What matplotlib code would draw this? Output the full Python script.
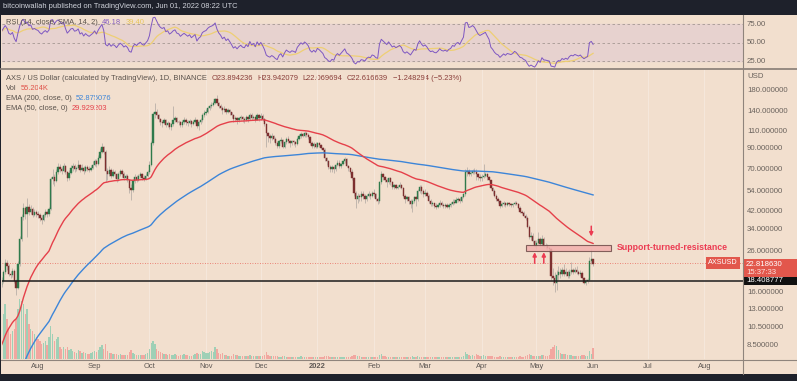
import numpy as np
import pandas as pd
import matplotlib
matplotlib.use("Agg")
import matplotlib.pyplot as plt
import matplotlib.dates as mdates
import matplotlib.transforms as mtransforms
from matplotlib.lines import Line2D
from matplotlib.patches import Rectangle
from matplotlib.ticker import NullLocator

plt.rcParams["font.family"] = ["Liberation Sans", "DejaVu Sans"]

# ---- data (AXS/USD daily) ----
start_date = "2021-07-12"
first_open = 17.5

close = [
    18.3, 20.4, 22.8, 21.9, 20.0, 19.6, 20.8, 18.4, 16.9, 22.6, 30.5, 39.5, 43.8, 41.2, 44.5, 42.0, 43.5, 40.5, 41.8, 41.0,  # Jul
    40.5, 39.0, 38.2, 40.5, 42.0, 41.0, 43.5, 62.5, 64.0, 61.0, 68.0, 72.0, 70.5, 69.0, 73.0, 68.0, 63.5, 67.0, 71.5, 72.5,
    70.0, 71.0, 74.0, 69.5, 71.5, 68.5, 72.0, 70.5, 69.5, 71.5, 73.5,  # Aug
    77.0, 74.5, 80.5, 86.0, 92.0, 86.5, 68.5, 66.0, 69.5, 65.0, 67.5, 66.0, 62.5, 66.0, 68.5, 66.5, 63.0, 64.5, 62.0, 56.0,
    54.5, 61.0, 64.0, 62.0, 64.5, 66.0, 63.5, 62.5, 65.0, 67.5,  # Sep
    74, 96, 136, 140, 134, 128, 124, 122, 126, 119, 122, 116.5, 120, 126, 129, 124, 123, 119, 123, 126,
    124, 122, 125, 121, 124, 127, 118, 123, 126, 135, 138,  # Oct
    140, 146, 150, 152, 155, 162, 155, 150, 147, 142, 145, 140, 143, 139, 134, 128, 130, 126, 129, 131,
    128, 127, 131, 128, 135, 130, 132, 127, 134, 129,  # Nov
    133, 128, 121, 108, 104, 102, 104, 101, 96, 93, 98, 100, 92, 97, 101, 98, 96, 98, 97, 95,
    101, 104, 107, 105, 108, 106, 103, 96, 93, 95, 92,  # Dec
    96, 94, 91, 88, 80, 77, 72, 70, 72, 70, 74, 76, 73, 75, 77, 79, 73, 71, 68, 63,
    53, 49, 51, 50, 52, 51, 49, 51, 52, 51, 53,  # Jan
    52, 49, 48, 60, 66, 64, 62, 60, 63, 60, 57, 58, 56, 57, 58, 56, 51, 49, 50, 48,
    46, 48, 50, 49, 54, 57, 54, 52,  # Feb
    53, 51, 48, 46, 46.5, 45, 44.5, 45.5, 47, 45.5, 45, 45.5, 44.5, 45.5, 46, 47.5, 47, 48.5, 49, 48,
    50, 52, 68, 69, 66, 67, 69, 68, 66, 64, 63,  # Mar
    64, 65, 66, 64, 62, 56, 54, 51, 49, 48, 45, 46, 47, 45.5, 46.5, 46, 45.5, 46, 47, 46,
    44, 42, 41.5, 40, 39, 35, 31, 31.5, 29.5, 28,  # Apr
    29.0, 30.5, 28.5, 30.5, 28.0, 27.8, 27.2, 26.8, 19.5, 19.0, 17.8, 19.8, 20.5, 20.0, 21.0, 20.0, 20.5, 19.5, 20.5, 21.0,
    20.5, 21.0, 20.5, 20.0, 20.3, 19.0, 18.0, 18.3, 18.6, 23.3, 23.894,  # May
    22.617,  # Jun 1
]

high = [
    19.2, 21.0, 24.0, 23.6, 22.5, 20.8, 21.4, 21.2, 18.8, 23.4, 31.5, 41.0, 47.0, 45.0, 49.5, 46.0, 45.5, 44.5, 43.5, 43.0,
    42.5, 41.5, 40.5, 41.5, 43.5, 43.0, 44.5, 64.0, 70.0, 66.0, 70.0, 76.0, 75.0, 72.0, 76.0, 74.0, 69.0, 69.5, 74.0, 76.0,
    74.5, 73.0, 78.0, 75.0, 74.5, 73.0, 74.0, 73.5, 72.5, 74.0, 77.0,
    79.5, 79.0, 83.0, 90.0, 96.0, 93.0, 88.0, 71.0, 72.5, 71.0, 70.0, 69.5, 67.0, 68.0, 70.5, 70.0, 67.5, 66.5, 66.0, 62.5,
    58.5, 62.5, 66.5, 65.5, 66.0, 68.0, 67.0, 65.5, 67.0, 69.5,
    77, 99, 140, 156, 145, 136, 130, 127, 129, 128, 125, 123, 122, 150, 133, 132, 127, 125, 126, 131,
    129, 127, 128, 126, 127, 131, 128, 125, 129, 138, 142,
    145, 150, 154, 157, 160, 165, 171, 158, 153, 150, 149, 147, 146, 144, 140, 136, 133, 132, 132, 134,
    133, 131, 134, 133, 138, 137, 135, 133, 137, 136,
    138, 136, 130, 122, 110, 107, 108, 106, 103, 99, 100, 103, 101, 99, 103, 104, 100, 100, 100, 98,
    103, 107, 110, 109, 111, 110, 108, 104, 98, 97, 97,
    97, 97, 95, 92, 90, 81, 78, 74, 74, 73, 75, 78, 78, 76, 78, 81, 80, 74, 72, 70,
    64, 54, 53, 52, 54, 54, 52, 52, 54, 53, 54,
    55, 53, 50, 61, 69, 67, 65, 63, 64, 64, 61, 59, 59, 58, 60, 59, 57, 52, 51, 51,
    49, 49, 51, 51, 55, 58, 58, 55,
    55, 54, 52, 49, 48, 47, 46.5, 47, 48.5, 48, 47, 47, 46.5, 46.5, 47.5, 49, 49, 50, 50.5, 50,
    51, 53, 70, 72, 70, 68.5, 70.5, 71, 70, 67, 66,
    66, 75, 68, 67, 65, 62, 57, 55, 52, 50, 48.5, 47.5, 48, 47.5, 47.5, 47.5, 47, 47, 48, 48,
    47, 45, 43, 42.5, 41, 40, 36, 33, 32.5, 30,
    30.0, 33.0, 31.0, 32.0, 31.0, 28.8, 28.5, 28.0, 27.2, 21.5, 20.5, 21.0, 22.0, 21.5, 21.8, 22.5, 21.5, 21.0, 21.2, 23.0,
    21.5, 21.8, 22.0, 21.0, 21.0, 20.8, 19.2, 18.8, 19.0, 24.5, 27.0,
    23.942,
]

low = [
    17.0, 17.9, 20.0, 21.0, 19.4, 19.0, 19.3, 18.0, 15.5, 16.6, 22.0, 29.5, 38.0, 38.5, 31.0, 40.5, 41.0, 39.5, 39.8, 39.5,
    39.0, 37.5, 36.5, 37.5, 39.5, 39.5, 40.0, 43.0, 59.0, 57.5, 60.0, 66.5, 68.0, 66.0, 68.0, 66.0, 61.0, 62.0, 66.0, 69.0,
    68.0, 68.5, 70.0, 68.0, 68.5, 66.5, 67.5, 68.5, 67.5, 68.5, 70.5,
    72.5, 72.0, 74.0, 79.5, 85.0, 84.0, 60.0, 62.0, 64.5, 63.5, 64.0, 63.5, 60.0, 61.0, 65.0, 64.0, 61.5, 61.5, 60.5, 53.0,
    48.5, 53.5, 59.5, 60.0, 61.0, 63.0, 62.0, 61.0, 61.5, 64.0,
    66.5, 73, 94, 130, 130, 124, 119, 117, 120, 117, 116, 114, 113, 118, 124, 122, 119, 116, 117, 121,
    119, 118, 120, 117, 119, 122, 115, 112, 120, 124, 131,
    134, 138, 143, 147, 150, 153, 151, 146, 143, 136, 139, 136, 138, 134, 130, 124, 125, 121, 124, 127,
    124, 122, 125, 124, 127, 126, 128, 123, 126, 125,
    127, 125, 118, 92, 97, 96, 100, 97, 94, 90, 91, 96, 90, 90, 95, 96, 92, 94, 94, 92,
    94, 100, 102, 103, 103, 103, 101, 94, 90, 91, 90,
    91, 92, 89, 86, 77, 74, 70, 68, 68, 67, 69, 73, 71, 71, 74, 76, 72, 69, 66, 62,
    51, 44, 47, 48, 48, 49, 47, 48, 50, 49, 50,
    50, 48, 46, 47, 59, 62, 60, 57, 59, 58, 55, 55, 55, 55, 56, 55, 50, 47, 48, 46,
    44, 42, 47, 45, 48, 53, 52, 50,
    51, 50, 47, 45, 45, 44, 43.5, 44, 44.5, 45, 44, 44, 44, 43.5, 44.5, 45.5, 46, 46.5, 47.5, 47,
    47.5, 49.5, 51, 65, 65, 65, 66, 66, 62, 62, 61,
    61, 63, 64, 62, 61, 55, 52, 50, 48, 46.5, 44, 44.5, 45, 44.5, 45, 45, 44.5, 44.5, 45.5, 45.5,
    43.5, 41.5, 41, 39.5, 38, 34.5, 30.5, 30, 29, 27.5,
    27.0, 28.5, 28.0, 28.0, 27.5, 26.8, 26.5, 26.0, 18.5, 17.5, 16.0, 16.5, 18.5, 19.0, 19.5, 19.5, 19.5, 19.0, 19.0, 20.0,
    20.0, 20.2, 20.0, 19.6, 19.5, 18.7, 17.6, 17.5, 17.8, 18.4, 22.5,
    22.07,
]

volume = [  # thousands
    175, 225, 275, 200, 150, 125, 140, 150, 200, 250, 300, 290, 275, 225, 250, 175, 150, 140, 125, 110,
    100, 90, 75, 80, 90, 70, 110, 165, 125, 90, 100, 110, 60, 50, 60, 50, 60, 45, 50, 40,
    35, 30, 45, 40, 30, 35, 30, 25, 25, 30, 35,
    40, 35, 45, 60, 70, 50, 75, 40, 30, 30, 25, 25, 25, 20, 25, 20, 20, 20, 20, 35,
    45, 30, 25, 20, 20, 20, 20, 20, 25, 30,
    50, 80, 90, 75, 50, 40, 35, 30, 25, 25, 20, 25, 20, 20, 25, 20, 15, 20, 20, 25,
    20, 20, 15, 15, 20, 25, 30, 25, 25, 40, 35,
    30, 30, 35, 40, 35, 60, 50, 30, 25, 30, 20, 20, 15, 15, 15, 25, 20, 20, 15, 15,
    15, 15, 15, 15, 20, 15, 15, 15, 15, 15,
    15, 15, 20, 35, 20, 15, 15, 15, 15, 15, 10, 10, 15, 15, 10, 10, 10, 10, 10, 10,
    10, 10, 15, 10, 10, 10, 10, 10, 10, 10, 10,
    10, 10, 10, 10, 15, 15, 15, 10, 10, 10, 10, 10, 10, 10, 10, 10, 10, 10, 10, 15,
    20, 20, 15, 15, 10, 10, 10, 10, 10, 10, 10,
    10, 10, 10, 20, 25, 15, 15, 10, 10, 10, 10, 10, 10, 10, 10, 10, 10, 10, 10, 10,
    10, 15, 10, 10, 15, 10, 10, 10,
    10, 10, 10, 10, 10, 10, 10, 10, 10, 10, 10, 10, 10, 10, 10, 10, 10, 10, 10, 10,
    10, 15, 35, 25, 20, 15, 20, 15, 25, 20, 15,
    15, 20, 15, 15, 15, 15, 15, 10, 10, 10, 15, 10, 10, 10, 10, 10, 10, 10, 10, 10,
    10, 15, 10, 10, 15, 20, 25, 20, 15, 15,
    15, 15, 15, 20, 20, 15, 15, 20, 50, 60, 70, 65, 45, 30, 25, 25, 25, 20, 20, 20,
    15, 15, 15, 15, 15, 20, 20, 15, 15, 40, 25,
    55.2,
]

# indicator state on the day before the first visible candle (from earlier history)
ema200_seed = 4.3
ema50_seed = 8.1
rsi_seed_gain, rsi_seed_loss = 0.8, 0.45

current_price = 22.818630
support_level = 18.408777
zone_low, zone_high = 26.3, 28.3
zone_start, zone_end = "2022-04-25", "2022-06-11"
up_arrow_dates = ["2022-04-30", "2022-05-05"]
down_arrow_date = "2022-05-31"
note_date = "2022-06-14"

price_ticks = [180, 140, 110, 90, 70, 54, 42, 34, 26, 16, 13, 10.5, 8.5]
rsi_levels = [75, 50, 25]
month_ticks = pd.date_range("2021-08-01", "2022-08-01", freq="MS")

# ---- colours ----
BG = "#f2dfce"
DARK = "#1e212b"
SEP = "#8f847c"
TXT = "#5a524c"
GREEN = "#2f7a4b"
RED = "#7d2f2f"
WICK = "#b9b0a8"
VGREEN = "#9fd0b6"
VRED = "#f2a7a0"
BLUE = "#3d85d8"
EMARED = "#e5404a"
NOTE = "#ec3b52"
AXTXT = "#6b635d"
FS = 5.4

W, H = 797, 381
fig = plt.figure(figsize=(W / 100, H / 100), dpi=100)
fig.patch.set_facecolor(DARK)


def box(x0, y0, x1, y1):
    return [x0 / W, 1 - y1 / H, (x1 - x0) / W, (y1 - y0) / H]


bg = fig.add_axes(box(1, 15, 797, 374))
bg.set_facecolor(BG)
bg.set_xticks([])
bg.set_yticks([])
bg.set_xlim(0, 1)
bg.set_ylim(0, 1)
for s in bg.spines.values():
    s.set_visible(False)

ax_rsi = fig.add_axes(box(2, 15, 743, 68))
ax_vol = fig.add_axes(box(2, 69, 743, 359), sharex=ax_rsi)
ax = fig.add_axes(box(2, 69, 743, 359), sharex=ax_rsi)
for a in (ax_rsi, ax_vol, ax):
    a.patch.set_alpha(0)
    for s in a.spines.values():
        s.set_visible(False)
    a.yaxis.set_major_locator(NullLocator())
    a.yaxis.set_minor_locator(NullLocator())

# ---- prices ----
dates = pd.date_range(start_date, periods=len(close), freq="D")
d = mdates.date2num(dates)
c = np.array(close, dtype=float)
o = np.r_[first_open, c[:-1]]
h = np.maximum(np.array(high, dtype=float), np.maximum(o, c))
l = np.minimum(np.array(low, dtype=float), np.minimum(o, c))
up = c >= o

d0 = d[0]
ax_rsi.set_xlim(d0 + 0.27, d0 + 406.1)

ax.set_yscale("log")
ax.yaxis.set_major_locator(NullLocator())
ax.yaxis.set_minor_locator(NullLocator())
ax.set_ylim(7.19, 233.6)

ax_vol.bar(d, volume, width=0.75, color=np.where(up, VGREEN, VRED), zorder=2)
ax_vol.set_ylim(0, max(volume) * 4.8)
ax_vol.set_axisbelow(True)
ax_vol.grid(axis="x", color="#f6e8dc", lw=0.7)

ax.vlines(d, l, h, color=WICK, lw=0.6, zorder=2)
body_col = np.where(up, GREEN, RED)
ax.bar(d, np.abs(c - o), bottom=np.minimum(o, c), width=0.72, color=body_col,
       edgecolor=body_col, linewidth=0.3, zorder=3)

ema200 = pd.Series(np.r_[ema200_seed, c]).ewm(span=200, adjust=False).mean().values[1:]
ema50 = pd.Series(np.r_[ema50_seed, c]).ewm(span=50, adjust=False).mean().values[1:]
ax.plot(d, ema200, color=BLUE, lw=1.0, zorder=4)
ax.plot(d, ema50, color=EMARED, lw=1.0, zorder=4)

ax.axhline(current_price, color="#e8665a", lw=0.6, ls=(0, (1, 2)), zorder=1)
ax.axhline(support_level, color="#1c1c1c", lw=1.1, zorder=5)

zs = mdates.date2num(pd.Timestamp(zone_start))
ze = mdates.date2num(pd.Timestamp(zone_end))
ax.add_patch(Rectangle((zs, zone_low), ze - zs, zone_high - zone_low, facecolor="#f2b0ae",
                       edgecolor="#6e4b48", lw=0.8, alpha=0.85, zorder=3.5))
arrow = dict(arrowstyle="-|>", color=NOTE, lw=1.1, mutation_scale=5.5, shrinkA=0, shrinkB=0)
for ad in up_arrow_dates:
    x = mdates.date2num(pd.Timestamp(ad))
    ax.annotate("", xy=(x, 25.9), xytext=(x, 22.7), arrowprops=arrow, zorder=6)
x = mdates.date2num(pd.Timestamp(down_arrow_date))
ax.annotate("", xy=(x, 31.3), xytext=(x, 35.4), arrowprops=arrow, zorder=6)
ax.text(mdates.date2num(pd.Timestamp(note_date)), 27.3, "Support-turned-resistance", color=NOTE,
        fontsize=6.3, fontweight="bold", va="center", ha="left", zorder=6)

trans = mtransforms.blended_transform_factory(ax.transAxes, ax.transData)
ax.text(0.993, current_price, "AXSUSD", transform=trans, ha="right", va="center", fontsize=5.2,
        color="white", bbox=dict(boxstyle="square,pad=0.35", fc="#e2574c", ec="none"), zorder=7)

# ---- x axis ----
ax.set_xticks(mdates.date2num(month_ticks))
ax.set_xticklabels(["2022" if t.month == 1 else t.strftime("%b") for t in month_ticks])
ax.tick_params(axis="x", length=0, pad=3.0, labelsize=5.4, colors="#5d5753")
for lbl in ax.get_xticklabels():
    if lbl.get_text() == "2022":
        lbl.set_fontweight("bold")
ax_vol.tick_params(axis="x", length=0, labelbottom=False)
ax_rsi.tick_params(axis="x", length=0, labelbottom=False)

# ---- RSI ----
rsi = []
ag, al = rsi_seed_gain, rsi_seed_loss
prev = first_open
for px in c:
    dlt = px - prev
    ag = (ag * 13 + max(dlt, 0)) / 14
    al = (al * 13 + max(-dlt, 0)) / 14
    rsi.append(100 - 100 / (1 + ag / al))
    prev = px
rsi = pd.Series(rsi)
rsi_ma = rsi.rolling(14, min_periods=1).mean()

ax_rsi.set_ylim(16.2, 87.8)
ax_rsi.axhspan(25, 75, color="#e7d2cf", zorder=0)
for lv in rsi_levels:
    ax_rsi.axhline(lv, color="#a59893", lw=0.6, ls=(0, (3, 3)), zorder=1)
ax_rsi.plot(d, rsi_ma, color="#efcf6a", lw=0.9, alpha=0.9, zorder=2)
ax_rsi.plot(d, rsi, color="#7e57c2", lw=0.7, zorder=3)

# ---- separators ----
for xs, ys, lw in [([743, 743], [15, 374], 0.8), ([1, 797], [68.5, 68.5], 1.3), ([1, 797], [359.5, 359.5], 0.8)]:
    fig.add_artist(Line2D([x / W for x in xs], [1 - y / H for y in ys], transform=fig.transFigure,
                          color=SEP, lw=lw))


def ypix(a, v):
    return H - a.transData.transform((d0, v))[1]


# ---- price scale labels ----
for p in price_ticks:
    fig.text(747 / W, 1 - ypix(ax, p) / H, f"{p:.6f}", fontsize=5.6, color=AXTXT, va="center", ha="left")
fig.text(747 / W, 1 - 76 / H, "USD", fontsize=5.6, color=AXTXT, va="center", ha="left")
for lv in rsi_levels:
    fig.text(747 / W, 1 - ypix(ax_rsi, lv) / H, f"{lv:.2f}", fontsize=5.6, color=AXTXT, va="center")

pc = ypix(ax, current_price)
fig.add_artist(Rectangle((743 / W, 1 - (pc + 14) / H), 54 / W, 18 / H, transform=fig.transFigure,
                         fc="#e2574c", ec="none"))
fig.text(746 / W, 1 - (pc + 1.5) / H, f"{current_price:.6f}", fontsize=5.6, color="white", va="center")
fig.text(746 / W, 1 - (pc + 9.5) / H, "15:37:33", fontsize=5.6, color="#fbe3df", va="center")
ps = ypix(ax, support_level)
fig.add_artist(Rectangle((743 / W, 1 - (ps + 4) / H), 54 / W, 8 / H, transform=fig.transFigure,
                         fc="#111111", ec="none"))
fig.text(746 / W, 1 - ps / H, f"{support_level:.6f}", fontsize=5.6, color="white", va="center")


# ---- legends ----
def text_row(x, y, parts, gap=3.2):
    t = fig.text(x / W, 1 - y / H, parts[0][0], color=parts[0][1], fontsize=FS, va="center", ha="left")
    for s, col in parts[1:]:
        t = bg.annotate(s, xy=(1, 0.5), xycoords=t, xytext=(gap, 0), textcoords="offset points",
                        va="center", ha="left", color=col, fontsize=FS)
    return t


fig.text(3 / W, 1 - 7 / H, "bitcoinwallah published on TradingView.com, Jun 01, 2022 08:22 UTC",
         color="#d1d4dc", fontsize=FS, va="center")
text_row(6, 22, [("RSI (14, close, SMA, 14, 2)", TXT), ("46.18", "#7e57c2"), ("39.40", "#e8c65a")])
OHLC = "#8a3e3a"
text_row(6, 78, [("AXS / US Dollar (calculated by TradingView), 1D, BINANCE", TXT), ("O23.894236", OHLC),
                 ("H23.942079", OHLC), ("L22.069694", OHLC), ("C22.616639", OHLC),
                 ("\u22121.248294 (\u22125.23%)", OHLC)])
text_row(6, 89, [("Vol", TXT), ("55.204K", "#e0534a")])
text_row(6, 99, [("EMA (200, close, 0)", TXT), ("52.875076", BLUE)])
text_row(6, 109, [("EMA (50, close, 0)", TXT), ("29.929203", EMARED)])

fig.savefig("out.png", dpi=100, facecolor=fig.get_facecolor())
